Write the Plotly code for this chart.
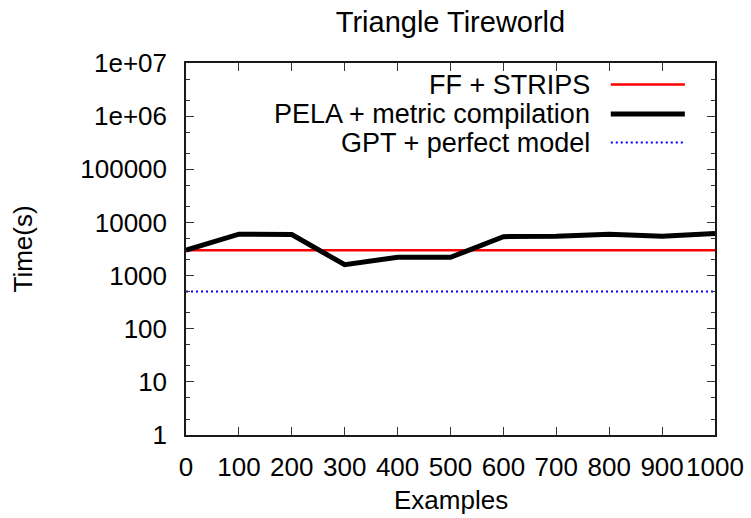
import plotly.graph_objects as go

# ---- data ----
examples = [0, 100, 200, 300, 400, 500, 600, 700, 800, 900, 1000]
ff_strips = [3000, 3000, 3000, 3000, 3000, 3000, 3000, 3000, 3000, 3000, 3000]
pela_metric = [3000, 6000, 5900, 1600, 2200, 2200, 5400, 5500, 6000, 5500, 6200]
gpt_perfect = [500, 500, 500, 500, 500, 500, 500, 500, 500, 500, 500]

series_names = ["FF + STRIPS", "PELA + metric compilation", "GPT + perfect model"]
x_ticks = [0, 100, 200, 300, 400, 500, 600, 700, 800, 900, 1000]
x_ticktext = ["0", "100", "200", "300", "400", "500", "600", "700", "800", "900", "1000"]
y_ticks = [1, 10, 100, 1000, 10000, 100000, 1000000, 10000000]
y_ticktext = ["1", "10", "100", "1000", "10000", "100000", "1e+06", "1e+07"]
y_minor = [m * 10 ** e for e in range(0, 7) for m in (2, 5)]

FONT = "Liberation Sans, Arial, Helvetica, sans-serif"
styles = [
    dict(color="#ff0000", width=2.5, dash="solid"),
    dict(color="#000000", width=5, dash="solid"),
    dict(color="#0000ff", width=2, dash="2px,3px"),
]

fig = go.Figure()
for name, vals, st in zip(series_names, [ff_strips, pela_metric, gpt_perfect], styles):
    fig.add_trace(go.Scatter(x=examples, y=vals, mode="lines", name=name,
                             line=st, showlegend=False))

axis_common = dict(showline=True, linecolor="#1a1a1a", linewidth=1.5, mirror="ticks",
                   ticks="inside", ticklen=8, tickwidth=1, tickcolor="#333333",
                   showgrid=False, zeroline=False, automargin=False, tickangle=0,
                   tickfont=dict(family=FONT, size=26, color="black"))

fig.update_layout(
    width=751, height=518,
    margin=dict(l=186, r=36, t=63, b=83, autoexpand=False),
    paper_bgcolor="white", plot_bgcolor="white",
    font=dict(family=FONT, color="black"),
    title=dict(text="Triangle Tireworld", x=0.5, xanchor="center", xref="paper",
               y=1 - 21.5 / 518, yanchor="middle", yref="container",
               font=dict(family=FONT, size=29, color="black")),
    xaxis=dict(range=[0, 1000], tickvals=x_ticks, ticktext=x_ticktext,
               ticklabelstandoff=8, **axis_common),
    yaxis=dict(type="log", range=[0, 7], tickvals=y_ticks, ticktext=y_ticktext,
               ticklabelstandoff=12,
               minor=dict(tickvals=y_minor, ticks="inside", ticklen=4,
                          tickcolor="#333333", tickwidth=1),
               **axis_common),
)

# axis titles
fig.add_annotation(text="Examples", xref="paper", yref="paper", x=0.5, y=-0.175,
                   xanchor="center", yanchor="middle", showarrow=False,
                   font=dict(family=FONT, size=26, color="black"))
fig.add_annotation(text="Time(s)", xref="paper", yref="paper", x=-0.309, y=0.5,
                   xanchor="center", yanchor="middle", textangle=-90, showarrow=False,
                   font=dict(family=FONT, size=26, color="black"))

# gnuplot-style key (text right-aligned, sample on the right)
key_rows = [0.942, 0.863, 0.786]
for name, st, ky in zip(series_names, styles, key_rows):
    fig.add_annotation(text=name, xref="paper", yref="paper", x=0.768, y=ky,
                       xanchor="right", yanchor="middle", showarrow=False,
                       font=dict(family=FONT, size=27, color="black"))
    fig.add_shape(type="line", xref="paper", yref="paper", x0=0.803, x1=0.943,
                  y0=ky, y1=ky, line=st)

fig.write_html("out.html")
